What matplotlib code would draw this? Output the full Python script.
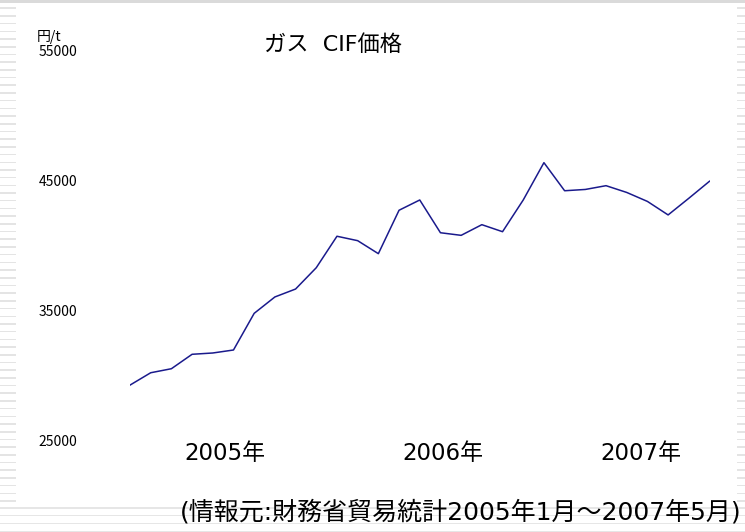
import matplotlib
matplotlib.use("Agg")
import matplotlib.pyplot as plt
from matplotlib.patches import Rectangle
import numpy as np

plt.rcParams['font.family'] = ['Noto Sans CJK JP', 'DejaVu Sans']
WIDE = ['DejaVu Sans', 'Noto Sans CJK JP']

# ---- data ----
months = ["2005-01", "2005-02", "2005-03", "2005-04", "2005-05", "2005-06",
          "2005-07", "2005-08", "2005-09", "2005-10", "2005-11", "2005-12",
          "2006-01", "2006-02", "2006-03", "2006-04", "2006-05", "2006-06",
          "2006-07", "2006-08", "2006-09", "2006-10", "2006-11", "2006-12",
          "2007-01", "2007-02", "2007-03", "2007-04", "2007-05"]
price = [29300, 30250, 30560, 31670, 31770, 32000, 34820, 36080, 36690,
         38330, 40750, 40410, 39410, 42750, 43540, 41020, 40820, 41640,
         41100, 43540, 46410, 44250, 44350, 44640, 44120, 43430, 42390,
         43670, 44980]
y_ticks = [25000, 35000, 45000, 55000]
year_labels = ["2005年", "2006年", "2007年"]
title = "ガス  CIF価格"
unit = "円/t"
source = "(情報元:財務省貿易統計2005年1月～2007年5月)"

W, H = 745, 532
fig = plt.figure(figsize=(W / 100, H / 100), dpi=100)
fig.patch.set_facecolor("white")

def px(x, y):
    return x / W, 1 - y / H

# decorative slide background stripes
stripe_col = "#e4e4e4"
for yy in np.arange(7.5, 501, 7.7):
    fig.add_artist(Rectangle(px(0, yy + 1.5), 16 / W, 1.5 / H, transform=fig.transFigure,
                             facecolor=stripe_col, edgecolor="none", zorder=0))
    fig.add_artist(Rectangle(px(737, yy + 1.5), 8 / W, 1.5 / H, transform=fig.transFigure,
                             facecolor=stripe_col, edgecolor="none", zorder=0))
for yy in np.arange(507, 533, 7.9):
    fig.add_artist(Rectangle(px(0, yy + 1.5), 1, 1.5 / H, transform=fig.transFigure,
                             facecolor="#e6e6e6", edgecolor="none", zorder=0))
fig.add_artist(Rectangle(px(0, 2.5), 1, 2.5 / H, transform=fig.transFigure,
                         facecolor="#dadada", edgecolor="none", zorder=0))

# axes: x index 0 at px 130, index 28 at px 709; y 25000 at px 441, 55000 at px 51
x0, x1 = 130, 709.5
yb, yt = 441, 51
ax = fig.add_axes([x0 / W, 1 - yb / H, (x1 - x0) / W, (yb - yt) / H])
ax.set_facecolor("none")
x = np.arange(len(months))
ax.plot(x, price, color="#1a1a8c", linewidth=1.1)
ax.set_xlim(0, len(months) - 1)
ax.set_ylim(y_ticks[0], y_ticks[-1])
for s in ax.spines.values():
    s.set_visible(False)

ax.set_yticks(y_ticks)
ax.set_yticklabels([str(v) for v in y_ticks], fontsize=10)
ax.tick_params(axis="y", length=0, pad=66)
for lab in ax.get_yticklabels():
    lab.set_horizontalalignment("left")

year_pos = [4.6, 15.1, 24.7]
ax.set_xticks(year_pos)
ax.set_xticklabels(year_labels, fontsize=16.5, family=WIDE)
ax.tick_params(axis="x", length=0, pad=1)

fig.text(*px(37, 37), unit, fontsize=10, ha="left", va="center")
fig.text(*px(333, 45), title, fontsize=16, ha="center", va="center", family=WIDE)
fig.text(*px(742, 512), source, fontsize=18, ha="right", va="center", family=WIDE)

fig.savefig("out.png", dpi=100)
